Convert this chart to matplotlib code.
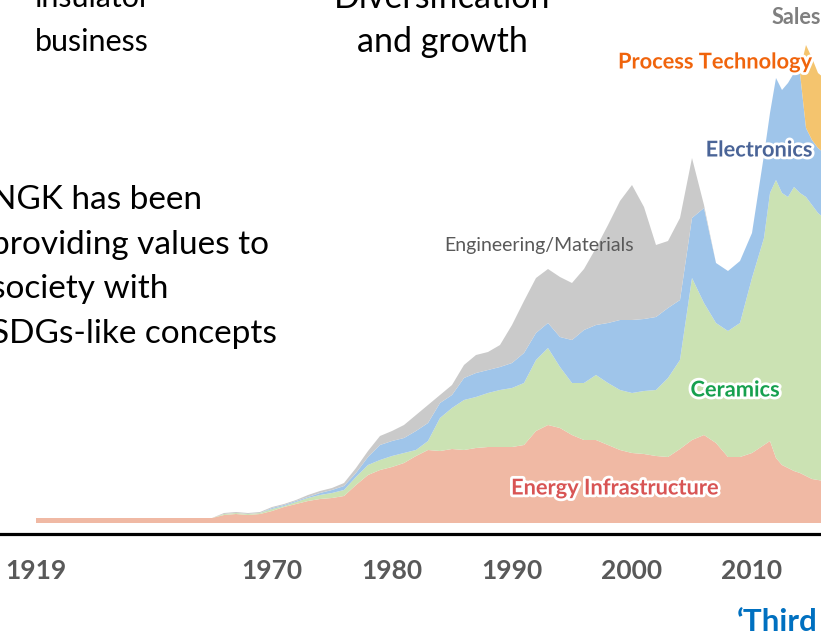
import numpy as np
import matplotlib
matplotlib.use("Agg")
import matplotlib.pyplot as plt
import matplotlib.patheffects as pe

plt.rcParams['font.family'] = ['Lato', 'DejaVu Sans']

# Sales by segment (stacked), approx. billions of yen
years = [1919, 1965, 1966, 1967, 1968, 1969, 1970, 1971, 1972, 1973, 1974,
         1975, 1976, 1977, 1978, 1979, 1980, 1981, 1982, 1983, 1984, 1985,
         1986, 1987, 1988, 1989, 1990, 1991, 1992, 1993, 1994, 1995, 1996,
         1997, 1998, 1999, 2000, 2001, 2002, 2003, 2004, 2005, 2006, 2007,
         2008, 2009, 2010, 2011, 2011.5, 2012, 2012.5, 2013, 2013.5, 2014,
         2014.5, 2015, 2015.5, 2016]
energy = [5, 5, 8, 9, 8, 9, 12, 16, 19, 22, 24,
          25, 27, 38, 48, 53, 56, 60, 67, 73, 72, 74,
          73, 75, 76, 76, 76, 78, 92, 98, 95, 88, 83,
          83, 78, 73, 70, 69, 67, 66, 74, 83, 88, 80,
          66, 66, 70, 78, 82, 65, 58, 55, 52, 50,
          47, 44, 43, 42]
ceramics = [0, 0, 1, 1, 1, 1, 2, 1, 2, 3, 4,
            5, 6, 8, 10, 10, 11, 10, 6, 9, 33, 41,
            50, 51, 54, 57, 59, 62, 71, 77, 61, 52, 57,
            65, 62, 60, 60, 63, 66, 79, 89, 162, 132, 120,
            126, 134, 175, 207, 248, 278, 272, 271, 284, 280,
            279, 274, 267, 263]
electronics = [0, 0, 0, 0, 0, 0, 1, 1, 1, 1, 2,
               3, 4, 4, 8, 15, 15, 15, 19, 18, 15, 13,
               22, 24, 23, 23, 25, 30, 27, 25, 30, 43, 53,
               50, 60, 70, 73, 72, 73, 70, 60, 60, 95, 60,
               60, 62, 45, 83, 80, 102, 103, 114, 114, 120,
               69, 65, 65, 65]
engineering = [0, 0, 1, 1, 1, 1, 1, 1, 1, 2, 2,
               2, 3, 5, 6, 9, 10, 13, 16, 18, 8, 10,
               13, 18, 18, 22, 38, 52, 55, 54, 60, 57, 61,
               77, 98, 119, 135, 112, 72, 67, 82, 60, 3, 0,
               0, 0, 0, 0, 0, 0, 0, 0, 0, 0,
               0, 0, 0, 0]
process = [0, 0, 0, 0, 0, 0, 0, 0, 0, 0, 0,
           0, 0, 0, 0, 0, 0, 0, 0, 0, 0, 0,
           0, 0, 0, 0, 0, 0, 0, 0, 0, 0, 0,
           0, 0, 0, 0, 0, 0, 0, 0, 0, 0, 0,
           0, 0, 0, 0, 0, 0, 0, 0, 0, 3,
           83, 82, 75, 75]

tick_years = [1919, 1970, 1980, 1990, 2000, 2010]
colors = ['#f0b9a4', '#cbe2b3', '#9fc5ea', '#cacaca', '#f4c46e']

W, H = 821, 637


def fwd(y):
    y = np.asarray(y, dtype=float)
    return np.where(y < 1965, 36 + (y - 1919) * 176 / 46, 212 + (y - 1965) * 12)


def inv(p):
    p = np.asarray(p, dtype=float)
    return np.where(p < 212, 1919 + (p - 36) * 46 / 176, 1965 + (p - 212) / 12)


def fx(px):
    return px / W


def fy(py):
    return 1 - py / H


fig = plt.figure(figsize=(W / 100, H / 100), dpi=100)
base_px = 534
ax = fig.add_axes([0, 1 - base_px / H, 1, base_px / H])
ax.set_xscale('function', functions=(fwd, inv))
ax.stackplot(years, energy, ceramics, electronics, engineering, process,
             colors=colors, linewidth=0)
ax.set_xlim(float(inv(0)), float(inv(W)))
ax.set_ylim(-11, 523)

for s in ['top', 'left', 'right']:
    ax.spines[s].set_visible(False)
ax.spines['bottom'].set_linewidth(2.3)
ax.spines['bottom'].set_color('black')
ax.set_yticks([])
ax.set_xticks(tick_years)
ax.set_xticklabels([str(t) for t in tick_years], fontsize=19, fontweight='bold',
                   color='#595959')
ax.tick_params(axis='x', length=0, pad=18)
ax.minorticks_off()

halo = [pe.withStroke(linewidth=4, foreground='white')]
fig.text(fx(539), fy(245), 'Engineering/Materials', ha='center', va='center',
         fontsize=14, color='#595959')
fig.text(fx(759), fy(150), 'Electronics', ha='center', va='center',
         fontsize=15.7, fontweight='bold', color='#4a6497', path_effects=halo)
fig.text(fx(715), fy(62), 'Process Technology', ha='center', va='center',
         fontsize=15.7, fontweight='bold', color='#f0640c', path_effects=halo)
fig.text(fx(772), fy(18), 'Sales', ha='left', va='center',
         fontsize=15.7, fontweight='bold', color='#7f7f7f')
fig.text(fx(735), fy(390), 'Ceramics', ha='center', va='center',
         fontsize=15.7, fontweight='bold', color='#16a04e', path_effects=halo)
fig.text(fx(615), fy(488), 'Energy Infrastructure', ha='center', va='center',
         fontsize=15.7, fontweight='bold', color='#d85454', path_effects=halo)

# slide text
fig.text(fx(92), fy(-2), 'insulator', ha='center', va='center', fontsize=22)
fig.text(fx(92), fy(42), 'business', ha='center', va='center', fontsize=22)
fig.text(fx(442), fy(-2), 'Diversification', ha='center', va='center', fontsize=24.5)
fig.text(fx(442), fy(42), 'and growth', ha='center', va='center', fontsize=24.5)
para = ['NGK has been', 'providing values to', 'society with', 'SDGs-like concepts']
for i, line in enumerate(para):
    fig.text(fx(-9), fy(200 + i * 44.7), line, ha='left', va='center', fontsize=24)
fig.text(fx(737), fy(622), '\u2018Third', ha='left', va='center', fontsize=22.5,
         fontweight='bold', color='#0070c0')

fig.savefig('out.png', dpi=100)
